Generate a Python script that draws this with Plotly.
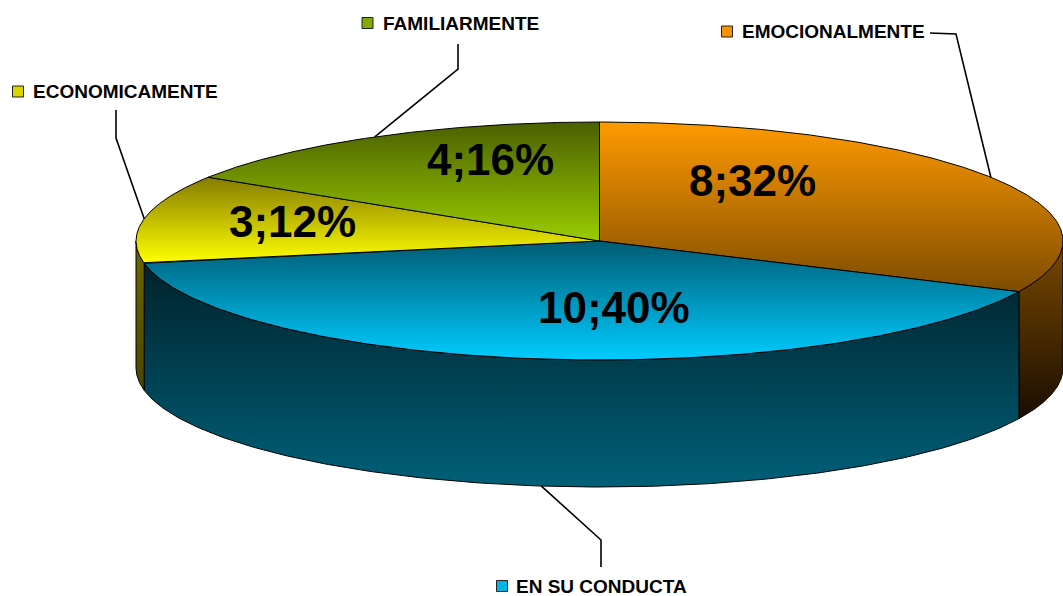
import numpy as np
import plotly.graph_objects as go

# ---------------- data ----------------
categories = ["EMOCIONALMENTE", "EN SU CONDUCTA", "ECONOMICAMENTE", "FAMILIARMENTE"]
counts = [8, 10, 3, 4]
percents = [32, 40, 12, 16]

# ---------------- layout / style ----------------
W, H = 1063, 596
CX, CY, A, B, DEPTH = 599.5, 241.0, 463.5, 119.0, 127.0

top_colors = [("#FF9A00", "#7E4C00"),   # orange: bright top -> dark bottom
              ("#005C74", "#00CCFF"),   # cyan: dark top -> bright bottom
              ("#857C00", "#FFFF00"),   # yellow
              ("#4A6000", "#9ACC00")]   # green
wall_colors = [("#7A4A00", "#1A0D00"),
               ("#00222B", "#006078"),
               ("#6E6800", "#4A4500"),
               ("#4A6000", "#2A3800")]
square_colors = ["#F59400", "#00B4E6", "#D8D400", "#82AA00"]

value_label_pos = [(752, 180), (614, 307), (292, 221), (490, 159)]
# category label: square centre (x, y), text left x
cat_label_pos = [(727, 31.5), (502, 586), (18, 91.5), (367.5, 23)]
text_left = [740, 514, 31, 381]
# leader lines: fixed elbow points + anchor angle on the pie (None = slice middle)
leader_elbows = [[(930, 33), (956, 34)],
                 [(601, 567), (601, 540)],
                 [(116, 110), (116, 138)],
                 [(458, 44), (458, 69)]]
leader_anchor_angle = [None, None, None, 331.0]
leader_on_bottom = [False, True, False, False]

FONT = "Liberation Sans, Arial, sans-serif"


def ell(theta_deg, dy=0.0):
    t = np.radians(theta_deg)
    return CX + A * np.sin(t), CY - B * np.cos(t) + dy


total = sum(counts)
bounds = np.concatenate([[0], np.cumsum(counts)]) / total * 360.0

fig = go.Figure()


def add_poly(xs, ys, c0, c1):
    xs = list(xs)
    ys = list(ys)
    fig.add_trace(go.Scatter(
        x=xs + [xs[0]], y=ys + [ys[0]], mode="lines", fill="toself",
        line=dict(color="#000000", width=1),
        fillgradient=dict(type="vertical", colorscale=[[0, c0], [1, c1]],
                          start=min(ys), stop=max(ys)),
        hoverinfo="skip", showlegend=False))


# walls (visible front half: 90..270 deg)
for i in range(len(counts)):
    t0, t1 = max(bounds[i], 90.0), min(bounds[i + 1], 270.0)
    if t1 <= t0:
        continue
    th = np.linspace(t0, t1, 200)
    xt, yt = ell(th)
    xb, yb = ell(th[::-1], DEPTH)
    add_poly(np.concatenate([xt, xb]), np.concatenate([yt, yb]), *wall_colors[i])

# top faces
for i in range(len(counts)):
    th = np.linspace(bounds[i], bounds[i + 1], 300)
    xt, yt = ell(th)
    add_poly(np.concatenate([[CX], xt]), np.concatenate([[CY], yt]), *top_colors[i])

# leader lines
for i in range(len(counts)):
    ang = leader_anchor_angle[i]
    if ang is None:
        ang = (bounds[i] + bounds[i + 1]) / 2
    ax, ay = ell(ang, DEPTH if leader_on_bottom[i] else 0.0)
    pts = leader_elbows[i] + [(float(ax), float(ay))]
    fig.add_trace(go.Scatter(x=[p[0] for p in pts], y=[p[1] for p in pts], mode="lines",
                             line=dict(color="#000000", width=1.6),
                             hoverinfo="skip", showlegend=False))

# legend squares
fig.add_trace(go.Scatter(
    x=[p[0] for p in cat_label_pos], y=[p[1] for p in cat_label_pos], mode="markers",
    marker=dict(symbol="square", size=11, color=square_colors,
                line=dict(color="#222222", width=1)),
    hoverinfo="skip", showlegend=False))

annotations = []
for i in range(len(counts)):
    lx, ly = value_label_pos[i]
    annotations.append(dict(x=lx, y=ly, xref="x", yref="y", showarrow=False,
                            text=f"{counts[i]};{percents[i]}%",
                            font=dict(family=FONT, size=44, color="#000000", weight="bold"),
                            xanchor="center", yanchor="middle"))
    annotations.append(dict(x=text_left[i], y=cat_label_pos[i][1], xref="x", yref="y",
                            showarrow=False, text=categories[i],
                            font=dict(family=FONT, size=19, color="#000000", weight="bold"),
                            xanchor="left", yanchor="middle"))

fig.update_layout(
    width=W, height=H, margin=dict(l=0, r=0, t=0, b=0),
    paper_bgcolor="#FFFFFF", plot_bgcolor="#FFFFFF",
    xaxis=dict(range=[0, W], visible=False, fixedrange=True),
    yaxis=dict(range=[H, 0], visible=False, fixedrange=True),
    annotations=annotations, showlegend=False,
)

fig.write_html("out.html", config={"displayModeBar": False},
               post_script="document.body.style.margin='0';document.body.style.overflow='hidden';")
